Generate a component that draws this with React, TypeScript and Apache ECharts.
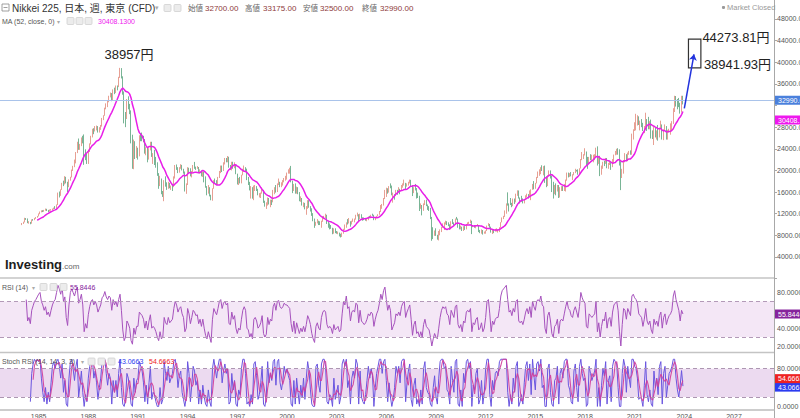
import React, { useEffect, useRef } from "react";
import * as echarts from "echarts";

// ---- Monthly Nikkei 225 data, Jan 1984 .. Dec 2023 (read/estimated from the chart) ----
const FIRST_OPEN = 9894;
const CLOSE = [
  10200,10430,11140,11020,10340,10400,10200,10900,10870,11150,11290,11543,
  11990,12320,12580,12430,12620,12880,12610,12520,12700,12760,12850,13113,
  13020,13640,15860,15830,16420,17650,17540,18820,17850,16910,18300,18701,
  20020,20770,21570,23270,25260,24180,24490,26030,26010,23330,22690,21564,
  23620,24900,26260,27430,27410,27770,28000,27370,27920,28200,29580,30159,
  31580,31990,32840,33710,34270,33180,34950,34430,35640,35550,37270,38916,
  37190,34590,29980,29590,33130,31940,31040,25980,20980,25190,22450,23849,
  23290,26410,26290,26110,25790,23290,24120,22340,23920,25220,22690,22984,
  22020,21340,19350,17390,18350,15950,15910,18060,17400,16770,17680,16925,
  17020,16950,18590,20920,20550,19590,20380,21030,20110,19700,16410,17417,
  20230,19990,19110,19720,20970,20640,20450,20630,19560,19990,19080,19723,
  18650,17050,16140,16810,15440,14520,16680,18120,17910,17650,18740,19868,
  20810,20130,21410,22040,21960,22530,20690,20170,21560,20470,21020,19361,
  18330,18560,18000,19150,20070,20600,20330,18230,17890,16460,16630,15259,
  16630,16830,16530,15640,15670,15830,16380,14110,13410,13560,14880,13842,
  14500,14370,15840,16700,16110,17530,17860,17440,17610,17940,18560,18934,
  19540,19960,20340,17970,16330,17410,15730,16860,15750,14540,14650,13785,
  13840,12880,12999,13930,13260,12970,11860,10710,9770,10370,10700,10543,
  9990,10590,11025,11490,11760,10620,9880,9620,9380,8640,9220,8579,
  8340,8360,7973,7831,8425,9083,9563,10344,10219,10560,10101,10677,
  10784,11041,11715,11762,11236,11858,11326,11082,10824,10771,10899,11489,
  11388,11740,11668,11009,11277,11584,11900,12414,13574,13607,14872,16111,
  16650,16205,17060,16906,15467,15505,15457,16141,16128,16399,16274,17226,
  17383,17604,17288,17400,17876,18138,17249,16569,16786,16738,15681,15308,
  13592,13604,12526,13850,14339,13481,13377,13073,11260,8577,8512,8860,
  7994,7568,8110,8828,9523,9958,10357,10493,10133,10035,9346,10546,
  10198,10126,11090,11057,9769,9383,9537,8824,9369,9202,9937,10229,
  10238,10624,9755,9850,9694,9816,9833,8955,8700,8988,8435,8455,
  8803,9723,10084,9521,8543,9007,8695,8840,8870,8928,9446,10395,
  11139,11559,12398,13861,13775,13677,13668,13389,14456,14328,15662,16291,
  14915,14841,14828,14304,14632,15162,15621,15425,16174,16414,17460,17451,
  17674,18798,19207,19520,20563,20236,20585,18890,17388,19083,19747,19034,
  17518,16027,16759,16666,17235,15576,16569,16887,16450,17425,18308,19114,
  19041,19119,18909,19197,19651,20033,19925,19646,20356,22012,22725,22765,
  23098,22068,21454,22468,22202,22305,22554,22865,24120,21920,22351,20015,
  20773,21385,21206,22259,20601,21276,21522,20704,21756,22927,23294,23657,
  23205,21143,18917,20194,21878,22288,21710,23140,23185,22977,26434,27444,
  27663,28966,29179,28813,28860,28792,27284,28090,29453,28893,27822,28792,
  27002,26527,27821,26848,27280,26393,27802,28092,25937,27587,27969,26095,
  27327,27446,28041,28856,30888,33189,33172,32619,31858,30859,33487,32990,
];
const HIGH = [
  10280,10520,11240,11190,11120,10620,10480,10950,11000,11220,11380,11580,
  12050,12400,12620,12650,12700,12950,12900,12700,12780,12850,12950,13130,
  13400,13700,15900,16100,16500,17700,18100,18940,18580,17900,18350,18820,
  20150,20850,22000,23400,25300,25900,24900,26100,26400,26650,23900,23100,
  23800,25000,26400,27700,27800,28200,28300,28200,28000,28400,29700,30200,
  31600,32400,32900,33800,34400,34300,34980,35300,35700,35700,37300,38957,
  38700,37400,34600,30800,33200,33700,32300,31100,26600,25700,25400,24500,
  24200,26500,26900,27000,26400,25800,24300,24200,24100,25300,25300,23200,
  23800,22500,21500,19500,19000,18500,16200,18200,18900,17800,17900,17700,
  17200,17500,18900,21000,21100,20600,20600,21148,21000,20300,19800,17600,
  20600,20500,20400,19900,21000,21573,20700,20800,20600,20200,19900,19800,
  19800,18900,17100,17300,16900,15500,16700,18200,18500,18200,18800,19900,
  20900,20900,21500,22300,22300,22666,22500,21000,21600,21600,21500,21100,
  19400,18600,18800,19200,20300,20900,20600,20300,18800,17800,17100,16900,
  17200,17300,17100,16600,15800,15900,16800,16400,14400,14100,15000,14900,
  14600,14600,16400,16900,17300,17600,18500,17900,17800,18200,18600,19000,
  19600,20200,20500,20833,18100,17500,17600,17000,16900,16000,15200,14900,
  14100,14000,13400,14500,14500,13400,13000,12100,11100,10500,11000,10700,
  10600,10700,11500,11600,12000,11800,10700,10200,9900,9400,9300,9300,
  8800,8700,8500,8300,8500,9200,10000,10400,11000,11200,10600,10700,
  11100,11100,11800,12200,11900,12000,11900,11200,11300,11200,11200,11500,
  11600,11800,12000,11800,11300,11600,11900,12500,13600,13800,14900,16400,
  16800,16700,17100,17600,17200,15900,15600,16400,16400,16900,16600,17300,
  17600,18300,17700,17600,17900,18300,18262,17300,16900,17500,16400,15900,
  15300,13900,13600,13900,14500,14600,13700,13400,12800,11400,9500,8900,
  9300,8100,8800,9100,9600,10200,10400,10700,10600,10400,10000,10600,
  11000,10400,11100,11400,11100,10200,9800,9600,9700,9700,10100,10400,
  10500,10900,10700,9900,9900,9900,10100,9800,9000,9100,8900,8700,
  8900,9800,10255,10100,9600,9100,9100,9200,9300,9100,9500,10430,
  11300,11600,12600,13900,15943,13900,14900,14000,14800,14800,15700,16320,
  16200,15000,15300,14800,14700,15400,15700,15600,16300,16500,17500,18030,
  17700,18800,19800,20200,20600,20950,20800,20900,18800,19100,20000,20000,
  18900,17900,17300,17600,17300,17300,16900,17100,17100,17500,18300,19600,
  19600,19500,19700,19300,19700,20300,20100,20200,20400,22100,23400,23000,
  24100,23500,22500,22500,23000,22900,22900,23000,24200,24448,22700,22700,
  20900,21600,21800,22300,22300,21400,21800,21500,22100,22900,23600,24000,
  24100,23900,21700,20300,21900,23200,23000,23300,23600,23700,26800,27600,
  28900,30467,30200,30000,29200,29500,28800,28200,30670,29500,29900,29100,
  29400,27400,28300,28000,27400,28400,27900,29200,28500,27600,28500,28200,
  27500,27700,28700,29100,31500,33800,33750,33200,33400,32500,33800,33800,
];
const LOW = [
  9890,10100,10390,10850,10250,10150,10050,10150,10700,10800,11050,11250,
  11500,11900,12250,12300,12350,12550,12500,12300,12400,12550,12600,12800,
  12880,12900,13600,15000,15300,16400,17100,17400,17600,16000,16900,18100,
  18800,19900,20600,21300,23200,23800,23800,24500,25000,21036,21900,21200,
  21200,23400,24800,26100,26700,27200,27400,27000,27000,27500,28100,29300,
  30100,31300,31700,32600,33500,32800,33000,34100,34300,34800,35400,37100,
  37000,34000,28700,28000,29500,31300,30400,25000,20300,20221,22100,22300,
  22000,22600,25400,25400,25200,23100,22800,21500,22000,23700,22500,21200,
  21000,20500,19000,16600,17100,15600,15100,14309,17000,16400,16600,16700,
  16400,16200,16900,18500,20100,19500,19600,20300,20000,19400,16100,15671,
  17300,19500,18900,18700,19600,20300,20100,20300,19500,19400,18900,18800,
  17800,16800,15400,15700,15200,14485,14400,16600,17500,17300,17300,18600,
  19500,19700,19900,21100,21500,21500,20500,20100,20000,20300,20400,19300,
  17400,17300,17600,17600,19100,19800,19900,18200,17300,16300,14800,14775,
  14500,16200,16200,15400,15000,14900,15700,14000,13300,12880,13500,13700,
  13200,13600,14100,15600,15900,16000,17300,16900,16900,17200,17800,18100,
  18300,19400,19400,17800,15800,16200,15700,15700,15600,14300,14200,13500,
  13200,12800,11800,12900,13100,12400,11600,10600,9382,9800,10200,9900,
  9900,9400,10500,11000,11200,10100,9400,9100,9200,8200,8300,8400,
  8300,8200,7800,7607,7700,8300,9000,9400,10000,10200,9600,10000,
  10500,10400,10900,11500,10500,11000,11100,10700,10800,10700,10600,10800,
  11200,11300,11600,10800,10800,11200,11500,11800,12300,12900,13500,14700,
  15100,15700,15900,16700,15400,14045,14600,15300,15500,16100,15600,16300,
  16800,17200,16500,17000,17200,17600,17100,15262,15800,16300,14800,14900,
  12500,12900,11691,12600,13600,13400,12700,12500,11000,6994,7300,7900,
  7900,7200,7054,8000,8600,9400,9000,10000,9900,9700,9000,9100,
  10100,9800,10000,10900,9400,9100,9100,8800,8800,9000,9100,9900,
  10100,10300,8227,9500,9400,9300,9800,8600,8400,8300,8135,8300,
  8300,8800,9700,9400,8500,8238,8400,8700,8700,8500,8600,9400,
  10400,11000,11400,12000,13500,12400,13600,13200,13500,13800,14100,15300,
  14800,13900,14200,13900,13900,14600,15000,14800,15200,14500,16700,16500,
  16600,17600,18600,19000,19300,19900,19100,17700,16900,17100,19000,18500,
  16000,14800,15600,15400,16100,14900,15000,16200,16200,16200,16100,18100,
  18700,18800,18900,18200,19100,19500,19800,19200,19200,20400,21900,22100,
  22800,20950,20300,21300,21900,21800,21500,21900,22500,20900,21200,18949,
  19200,20300,20800,21400,20400,20300,21000,20100,20600,21300,22800,22900,
  22900,20900,16358,18600,19400,21500,21700,21700,22900,22900,22900,25700,
  27300,27400,28300,28400,27400,28000,27300,26900,28000,27300,27600,27600,
  25900,25800,24700,26100,25700,25500,26100,27600,25700,25600,27400,25700,
  25700,27000,26600,27400,28600,30800,31800,31300,31700,30500,30700,32200,
];
const RSI = [
  null,null,null,72,48,52,45,60,65,70,72,75,
  78,80,70,66,60,64,55,58,53,60,66,70,
  72,80,88,84,78,86,70,75,52,43,66,80,
  84,80,76,82,86,68,72,78,66,36,45,40,
  55,64,70,72,66,70,66,58,62,66,74,76,
  81,75,72,76,74,60,72,66,70,64,72,78,
  60,38,26,30,48,45,40,26,22,40,33,42,
  42,58,56,54,50,40,48,38,48,55,40,42,
  40,36,30,26,36,28,30,52,46,44,52,46,
  48,50,62,70,66,58,62,64,56,52,36,40,
  62,56,45,52,60,58,54,55,45,50,42,50,
  40,32,28,36,30,24,50,62,58,55,62,70,
  72,62,68,70,66,68,45,44,58,50,54,40,
  34,40,38,50,60,64,60,40,38,30,34,28,
  50,52,48,40,42,46,54,34,30,33,52,44,
  50,48,64,68,60,70,71,64,62,64,68,66,
  66,64,62,45,36,48,34,46,40,34,40,36,
  42,36,44,54,50,44,34,28,24,42,46,40,
  38,52,58,60,58,44,40,42,40,34,44,38,
  40,42,36,38,56,70,66,76,62,64,48,58,
  60,58,68,66,46,60,48,46,44,46,50,56,
  54,58,56,42,50,56,60,68,78,72,82,86,
  72,60,66,60,38,42,46,56,54,58,54,64,
  68,70,52,58,62,66,50,32,44,48,34,36,
  30,36,30,44,50,42,40,38,30,20,28,34,
  30,28,40,52,60,64,62,64,56,54,44,60,
  56,52,64,66,44,40,44,36,48,46,58,60,
  58,62,36,46,44,50,52,38,40,46,36,40,
  52,70,72,56,36,48,44,50,52,52,62,76,
  82,84,86,88,72,58,60,54,62,58,70,72,
  48,46,48,44,50,58,62,56,64,52,70,64,
  60,70,72,70,76,66,64,40,34,54,58,48,
  34,30,42,44,50,34,48,50,48,56,64,70,
  62,60,54,52,60,64,58,52,64,80,74,70,
  68,42,40,56,54,52,54,56,70,36,46,30,
  42,50,48,58,40,50,52,42,58,66,68,70,
  60,36,20,44,62,60,50,62,58,54,76,78,
  74,72,68,56,54,52,42,50,62,48,44,48,
  38,34,50,44,48,42,54,58,40,52,56,44,
  50,54,56,60,76,82,72,66,60,48,60,55.8446,
];
const STOCH_K = [
  null,null,null,null,null,null,10,70,90,100,95,100,
  95,100,60,30,10,40,5,30,10,50,85,95,
  80,95,100,85,60,90,30,55,5,0,60,95,
  100,80,55,85,100,20,45,75,30,0,25,10,
  60,85,100,100,60,75,50,15,40,60,95,100,
  100,70,45,70,60,5,55,30,55,20,70,100,
  40,5,0,15,70,60,35,5,0,60,30,55,
  60,95,85,75,50,10,45,5,50,85,15,30,
  25,10,0,0,40,5,15,95,70,55,85,50,
  60,70,95,100,80,40,65,75,30,15,0,20,
  95,70,10,45,85,75,45,55,5,35,5,45,
  20,5,0,35,10,0,80,100,80,60,85,100,
  100,50,75,90,70,80,5,10,70,35,55,5,
  0,35,25,80,100,100,70,5,10,0,25,5,
  90,95,65,15,25,50,85,5,0,20,95,50,
  70,55,95,100,45,95,100,50,35,55,85,70,
  80,65,55,5,0,55,5,60,30,5,45,20,
  60,15,60,95,75,35,5,0,0,85,90,45,
  30,90,100,100,85,10,5,25,20,0,60,15,
  30,45,5,20,90,100,85,100,40,55,5,60,
  75,60,100,90,5,75,20,10,5,25,55,85,
  60,80,65,0,40,70,85,100,100,70,95,100,
  55,10,50,20,0,15,40,85,70,85,50,95,
  100,100,10,50,75,90,15,0,45,60,5,15,
  0,35,5,80,95,40,30,25,5,0,40,65,
  20,5,60,95,100,100,80,85,35,30,5,85,
  55,30,95,100,5,0,35,0,70,50,95,100,
  80,95,0,45,35,70,80,5,15,55,5,30,
  80,100,100,25,0,55,35,70,75,65,95,100,
  100,100,100,100,30,0,25,5,60,30,85,95,
  0,10,25,5,50,85,95,55,90,25,100,65,
  35,90,95,75,100,40,45,0,0,80,90,30,
  5,0,55,60,85,5,70,80,60,95,100,100,
  45,35,10,5,75,90,40,10,85,100,70,55,
  60,0,5,85,70,55,65,75,100,0,40,0,
  45,80,65,95,5,55,65,10,85,100,95,90,
  40,0,0,70,100,85,30,85,60,40,100,100,
  85,80,60,15,20,15,0,45,95,25,10,35,
  5,0,75,40,60,25,85,95,5,70,85,20,
  45,70,75,85,100,100,60,35,20,45,76,43.0663,
];

// header / annotation texts
const LAST = { open: "32700.00", high: "33175.00", low: "32500.00", close: "32990.00" };
const LAST_CLOSE = 32990;
const MA_LAST = 30408.13;
const RSI_LAST = 55.8446;
const K_LAST = 43.0663;
const D_LAST = 54.6663;
const PEAK = { month: "1989-12", value: 38957 };
const TARGET_HIGH = 44273.81;
const TARGET_LOW = 38941.93;

const FONT = "'Liberation Sans', 'Noto Sans CJK JP', sans-serif";
const CLEAR = "rgba(0,0,0,0)";

// monthly categories: Sep 1982 .. May 2029
const CATS: string[] = [];
for (let c = 0; c < 562; c++) {
  const m = 8 + c;
  const y = 1982 + Math.floor(m / 12);
  const mo = (m % 12) + 1;
  CATS.push(`${y}-${String(mo).padStart(2, "0")}`);
}
const OFFSET = 16; // index of 1984-01

function build() {
  const candles: any[] = [];
  const ma: any[] = [];
  const rsi: any[] = [];
  const k: any[] = [];
  const d: any[] = [];
  for (let c = 0; c < CATS.length; c++) {
    const i = c - OFFSET;
    if (i < 0 || i >= CLOSE.length) {
      candles.push("-"); ma.push("-"); rsi.push("-"); k.push("-"); d.push("-");
      continue;
    }
    const o = i === 0 ? FIRST_OPEN : CLOSE[i - 1];
    const cl = CLOSE[i];
    candles.push([o, cl, Math.min(LOW[i], o, cl), Math.max(HIGH[i], o, cl)]);
    if (i >= 11) {
      let s = 0;
      for (let j = i - 11; j <= i; j++) s += CLOSE[j];
      ma.push(s / 12);
    } else ma.push("-");
    rsi.push(RSI[i] == null ? "-" : RSI[i]);
    k.push(STOCH_K[i] == null ? "-" : STOCH_K[i]);
    if (i >= 2 && STOCH_K[i] != null && STOCH_K[i - 1] != null && STOCH_K[i - 2] != null) {
      d.push(((STOCH_K[i] as number) + (STOCH_K[i - 1] as number) + (STOCH_K[i - 2] as number)) / 3);
    } else d.push("-");
  }
  return { candles, ma, rsi, k, d };
}

const T = (x: number, y: number, text: string, fontSize: number, fill: string, extra: any = {}) => ({
  type: "text",
  x, y, silent: true, z: 100,
  style: { text, fontSize, fill, fontFamily: FONT, align: "left", verticalAlign: "middle", textAlign: "left", textVerticalAlign: "middle", ...extra },
});
const ICON = (x: number, y: number) => ({
  type: "rect", silent: true, z: 100,
  shape: { x, y, width: 7, height: 7, r: 1 },
  style: { fill: "#ececec", stroke: "#d0d0d0", lineWidth: 0.8 },
});
const boxLabel = (text: string, bg: string, offset: number[] = [0, 0]) => ({
  show: true, position: "end", formatter: text, color: "#fff", backgroundColor: bg,
  fontSize: 7, fontFamily: FONT, padding: [1, 3, 1, 3], distance: 1, offset,
});
// a price box on the right axis: the line itself is fully transparent, only its label shows
const valueBox = (value: number, text: string, bg: string, offset: number[] = [0, 0]) => ({
  yAxis: value,
  lineStyle: { color: CLEAR, width: 1, type: "solid", opacity: 1 },
  label: boxLabel(text, bg, offset),
});

export default function App() {
  const ref = useRef<HTMLDivElement>(null);
  useEffect(() => {
    document.body.style.margin = "0";
    if (!ref.current) return;
    const chart = echarts.init(ref.current, undefined, { renderer: "svg" });
    const { candles, ma, rsi, k, d } = build();

    const axisLineStyle = { show: true, lineStyle: { color: "#a8a8a8", width: 1 } };
    const yLabel = (fmt: (v: number) => string) => ({ fontSize: 7, color: "#555", margin: 3, fontFamily: FONT, formatter: fmt });

    const option: any = {
      animation: false,
      textStyle: { fontFamily: FONT },
      grid: [
        { left: 0, right: 26, top: -2.67, height: 281.27, outerBoundsMode: "none" },
        { left: 0, right: 26, top: 274.6, height: 89.25, outerBoundsMode: "none" },
        { left: 0, right: 26, top: 349.83, height: 75.47, outerBoundsMode: "none" },
        { left: 0, right: 26, top: 400, height: 9.5, outerBoundsMode: "none" },
      ],
      xAxis: [0, 1, 2, 3].map((g) => ({
        type: "category", gridIndex: g, data: CATS, boundaryGap: false,
        show: g === 3,
        axisLine: { show: true, lineStyle: { color: "#bdbdbd", width: 1.5 } },
        axisTick: { show: false },
        splitLine: { show: false },
        axisLabel: {
          fontSize: 7, color: "#555", margin: 3, fontFamily: FONT,
          interval: (_i: number, v: string) => {
            const y = +v.slice(0, 4);
            return v.endsWith("-01") && y >= 1985 && (y - 1985) % 3 === 0;
          },
          formatter: (v: string) => v.slice(0, 4),
        },
      })),
      yAxis: [
        {
          type: "value", gridIndex: 0, position: "right", min: 0, max: 52000, interval: 4000,
          axisLine: axisLineStyle, axisTick: { show: true, length: 3, lineStyle: { color: "#a8a8a8" } },
          splitLine: { show: false },
          axisLabel: yLabel((v) => (v <= 0 || v > 48000 || v === 32000 ? "" : v.toFixed(2))),
        },
        {
          type: "value", gridIndex: 1, position: "right", min: 0, max: 100, interval: 20,
          axisLine: axisLineStyle, axisTick: { show: false }, splitLine: { show: false },
          axisLabel: yLabel((v) => (v < 20 || v > 80 || v === 60 ? "" : v.toFixed(4))),
        },
        {
          type: "value", gridIndex: 2, position: "right", min: -40, max: 120, interval: 40,
          axisLine: axisLineStyle, axisTick: { show: false }, splitLine: { show: false },
          axisLabel: yLabel((v) => (v < 0 || v > 80 || v === 40 ? "" : v.toFixed(4))),
        },
        { type: "value", gridIndex: 3, show: false },
      ],
      series: [
        {
          type: "candlestick", xAxisIndex: 0, yAxisIndex: 0, data: candles,
          barWidth: 0.9, large: false,
          itemStyle: { color: "#dc7765", color0: "#3f9568", borderColor: "#dc7765", borderColor0: "#3f9568", borderWidth: 0.7 },
          emphasis: { disabled: true },
        },
        {
          type: "line", xAxisIndex: 0, yAxisIndex: 0, data: ma, showSymbol: false, symbol: "none",
          clip: false, z: 3,
          lineStyle: { color: "#e81ee8", width: 1.5 },
          emphasis: { disabled: true },
          markLine: {
            silent: true, symbol: ["none", "none"], animation: false,
            data: [
              {
                yAxis: LAST_CLOSE,
                lineStyle: { color: "#a9c3ea", width: 1, type: "solid" },
                label: boxLabel(LAST.close, "#4a80dc", [0, 0]),
              },
              valueBox(MA_LAST, "30408.13", "#ee18ee", [0, 6]),
              [
                { coord: ["2024-01", 31480], symbol: "none", lineStyle: { color: "#2233dd", width: 1.5, type: "solid", curveness: 0.08 }, label: { show: false } },
                { coord: ["2024-08", 41470], symbol: "arrow", symbolSize: 6 },
              ],
            ],
          },
          markArea: {
            silent: true,
            itemStyle: { color: CLEAR, borderColor: "#333", borderWidth: 1.2 },
            data: [[{ coord: ["2024-04", TARGET_HIGH] }, { coord: ["2025-01", TARGET_LOW] }]],
          },
          markPoint: {
            silent: true, symbol: "circle", symbolSize: 1, itemStyle: { color: CLEAR },
            data: [
              {
                coord: [PEAK.month, PEAK.value],
                label: { show: true, position: "top", distance: 6, offset: [9, 0], formatter: `${PEAK.value}円`, fontSize: 13, color: "#222", fontFamily: FONT },
              },
              {
                coord: ["2025-01", TARGET_HIGH],
                label: { show: true, position: "right", distance: 1, offset: [0, -2], formatter: `${TARGET_HIGH.toFixed(2)}円`, fontSize: 13, color: "#222", fontFamily: FONT },
              },
              {
                coord: ["2025-01", TARGET_LOW],
                label: { show: true, position: "right", distance: 2.5, offset: [0, -3], formatter: `${TARGET_LOW.toFixed(2)}円`, fontSize: 13, color: "#222", fontFamily: FONT },
              },
            ],
          },
        },
        {
          type: "line", xAxisIndex: 1, yAxisIndex: 1, data: rsi, showSymbol: false, symbol: "none",
          clip: false, lineStyle: { color: "#a652bd", width: 1 }, emphasis: { disabled: true },
          markArea: { silent: true, itemStyle: { color: "#f4e7f6" }, data: [[{ yAxis: 30 }, { yAxis: 70 }]] },
          markLine: {
            silent: true, symbol: ["none", "none"],
            data: [
              { yAxis: 70, lineStyle: { color: "#b39ab8", type: [4, 3], width: 1 }, label: { show: false } },
              { yAxis: 30, lineStyle: { color: "#b39ab8", type: [4, 3], width: 1 }, label: { show: false } },
              valueBox(RSI_LAST, RSI_LAST.toFixed(4), "#86239c"),
            ],
          },
        },
        {
          type: "line", xAxisIndex: 2, yAxisIndex: 2, data: k, showSymbol: false, symbol: "none",
          clip: false, lineStyle: { color: "#6a55e0", width: 1 }, emphasis: { disabled: true },
          markArea: { silent: true, itemStyle: { color: "#ecdaf0" }, data: [[{ yAxis: 20 }, { yAxis: 80 }]] },
          markLine: {
            silent: true, symbol: ["none", "none"],
            data: [
              { yAxis: 80, lineStyle: { color: "#ad96b2", type: [4, 3], width: 1 }, label: { show: false } },
              { yAxis: 20, lineStyle: { color: "#ad96b2", type: [4, 3], width: 1 }, label: { show: false } },
              valueBox(K_LAST, K_LAST.toFixed(4), "#2b3bf0", [0, 1]),
            ],
          },
        },
        {
          type: "line", xAxisIndex: 2, yAxisIndex: 2, data: d, showSymbol: false, symbol: "none",
          clip: false, lineStyle: { color: "#d03c9a", width: 1.1, opacity: 0.9 }, emphasis: { disabled: true },
          markLine: {
            silent: true, symbol: ["none", "none"],
            data: [valueBox(D_LAST, D_LAST.toFixed(4), "#ee2222", [0, -2])],
          },
        },
      ],
      graphic: [
        // panel separators
        { type: "line", silent: true, shape: { x1: 0, y1: 278, x2: 774, y2: 278 }, style: { stroke: "#c4c4c4", lineWidth: 1.5 } },
        { type: "line", silent: true, shape: { x1: 0, y1: 352.5, x2: 774, y2: 352.5 }, style: { stroke: "#c4c4c4", lineWidth: 1.5 } },
        // header line 1
        { type: "rect", silent: true, z: 100, shape: { x: 2, y: 4, width: 7, height: 7 }, style: { fill: "none", stroke: "#888", lineWidth: 0.8 } },
        { type: "line", silent: true, z: 100, shape: { x1: 3.5, y1: 7.5, x2: 7.5, y2: 7.5 }, style: { stroke: "#888", lineWidth: 0.8 } },
        T(12, 8, "Nikkei 225, 日本, 週, 東京 (CFD)", 10, "#333"),
        T(155, 8, "▾", 7, "#aaa", { fontFamily: "DejaVu Sans" }),
        ICON(164, 4.5), ICON(174, 4.5),
        T(188, 8, "始値", 7.5, "#666"),
        T(205, 8, LAST.open, 8, "#8e3b3b"),
        T(245, 8, "高値", 7.5, "#666"),
        T(263, 8, LAST.high, 8, "#8e3b3b"),
        T(303, 8, "安値", 7.5, "#666"),
        T(320, 8, LAST.low, 8, "#8e3b3b"),
        T(362, 8, "終値", 7.5, "#666"),
        T(380, 8, LAST.close, 8, "#8e3b3b"),
        // header line 2
        T(2, 21, "MA (52, close, 0)", 7, "#555"),
        T(57, 21, "▾", 6, "#aaa", { fontFamily: "DejaVu Sans" }),
        ICON(67, 17.5), ICON(76, 17.5), ICON(85, 17.5),
        T(98, 21, "30408.1300", 7, "#ee18ee"),
        // market closed
        { type: "circle", silent: true, z: 100, shape: { cx: 723.5, cy: 7.5, r: 1.6 }, style: { fill: "#999" } },
        T(727, 7.5, "Market Closed", 7.5, "#999"),
        // logo
        T(5, 264, "Investing", 13, "#1d1d1d", { fontWeight: "bold" }),
        T(62, 266, ".com", 8, "#666"),
        // RSI header
        T(2, 287, "RSI (14)", 7, "#555"),
        T(32, 287, "▾", 6, "#aaa", { fontFamily: "DejaVu Sans" }),
        ICON(40, 283.5), ICON(50, 283.5), ICON(60, 283.5),
        T(70, 287, RSI_LAST.toFixed(4), 7, "#86239c"),
        // Stoch header
        T(2, 361.5, "Stoch RSI (14, 14, 3, 3)", 7, "#555"),
        T(81, 361.5, "▾", 6, "#aaa", { fontFamily: "DejaVu Sans" }),
        ICON(88, 358), ICON(98, 358), ICON(108, 358),
        T(118, 361.5, K_LAST.toFixed(4), 7, "#2b3bf0"),
        T(149, 361.5, D_LAST.toFixed(4), 7, "#ee2222"),
      ],
    };
    chart.setOption(option);
    return () => chart.dispose();
  }, []);
  return <div ref={ref} style={{ width: 800, height: 418 }} />;
}
